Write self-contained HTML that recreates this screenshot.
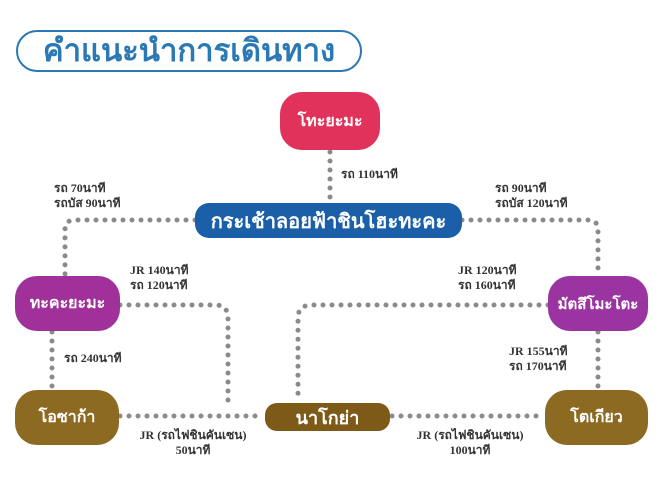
<!DOCTYPE html>
<html><head><meta charset="utf-8"><style>
html,body{margin:0;padding:0;background:#fff;}
body{width:664px;height:479px;overflow:hidden;position:relative;font-family:"Liberation Serif","Noto Serif CJK SC",serif;}
.t{position:absolute;font-size:12px;font-weight:bold;color:#333;line-height:15px;white-space:nowrap;}
.n{position:absolute;display:flex;align-items:center;justify-content:center;color:#fff;font-family:"Liberation Sans","Noto Sans CJK SC",sans-serif;font-size:16px;font-weight:bold;}
</style></head><body>
<svg width="664" height="479" style="position:absolute;left:0;top:0">
<g fill="none" stroke="#8a8a8a" stroke-width="5" stroke-linecap="round" stroke-dasharray="0 9">
<path d="M330 152 V202"/>
<path d="M195 220 H75 Q65 220 65 230 V275"/>
<path d="M462 220 H588 Q598 220 598 230 V275"/>
<path d="M120 305 H215 Q228 305 228 318 V402"/>
<path d="M548 305 H312 Q298 305 298 318 V402"/>
<path d="M52 332 V390"/>
<path d="M598 332 V390"/>
<path d="M120 416 H264"/>
<path d="M392 416 H544"/>
</g>
<rect x="17" y="31" width="344" height="40" rx="20" fill="#fff" stroke="#2a78b4" stroke-width="2"/>
</svg>
<div style="position:absolute;left:17px;top:30px;width:344px;height:40px;display:flex;align-items:center;justify-content:center;color:#2a78b4;font-family:'Liberation Sans','Noto Sans CJK SC',sans-serif;font-size:31px;font-weight:bold;">คำแนะนำการเดินทาง</div>
<div class="n" style="left:280px;top:92px;width:100px;height:58px;border-radius:22px;background:#e0325a;">โทะยะมะ</div>
<div class="n" style="left:195px;top:203px;width:267px;height:35px;border-radius:14px;background:#1a5fa8;font-size:20px;">กระเช้าลอยฟ้าชินโฮะทะคะ</div>
<div class="n" style="left:15px;top:276px;width:105px;height:55px;border-radius:22px;background:#a0309a;">ทะคะยะมะ</div>
<div class="n" style="left:548px;top:276px;width:100px;height:55px;border-radius:22px;background:#9a34a0;font-size:15px;">มัตสึโมะโตะ</div>
<div class="n" style="left:15px;top:390px;width:104px;height:55px;border-radius:22px;background:#8d6a22;">โอซาก้า</div>
<div class="n" style="left:265px;top:403px;width:125px;height:28px;border-radius:12px;background:#7e5a18;font-size:18px;">นาโกย่า</div>
<div class="n" style="left:545px;top:390px;width:103px;height:55px;border-radius:22px;background:#8d6a22;">โตเกียว</div>
<div class="t" style="left:341px;top:167px;">รถ 110นาที</div>
<div class="t" style="left:54px;top:181px;">รถ 70นาที<br>รถบัส 90นาที</div>
<div class="t" style="left:495px;top:181px;">รถ 90นาที<br>รถบัส 120นาที</div>
<div class="t" style="left:130px;top:263px;">JR 140นาที<br>รถ 120นาที</div>
<div class="t" style="left:458px;top:263px;">JR 120นาที<br>รถ 160นาที</div>
<div class="t" style="left:64px;top:351px;">รถ 240นาที</div>
<div class="t" style="left:509px;top:344px;">JR 155นาที<br>รถ 170นาที</div>
<div class="t" style="left:118px;top:428px;text-align:center;width:150px;">JR (รถไฟชินคันเซน)<br>50นาที</div>
<div class="t" style="left:395px;top:428px;text-align:center;width:150px;">JR (รถไฟชินคันเซน)<br>100นาที</div>
</body></html>
